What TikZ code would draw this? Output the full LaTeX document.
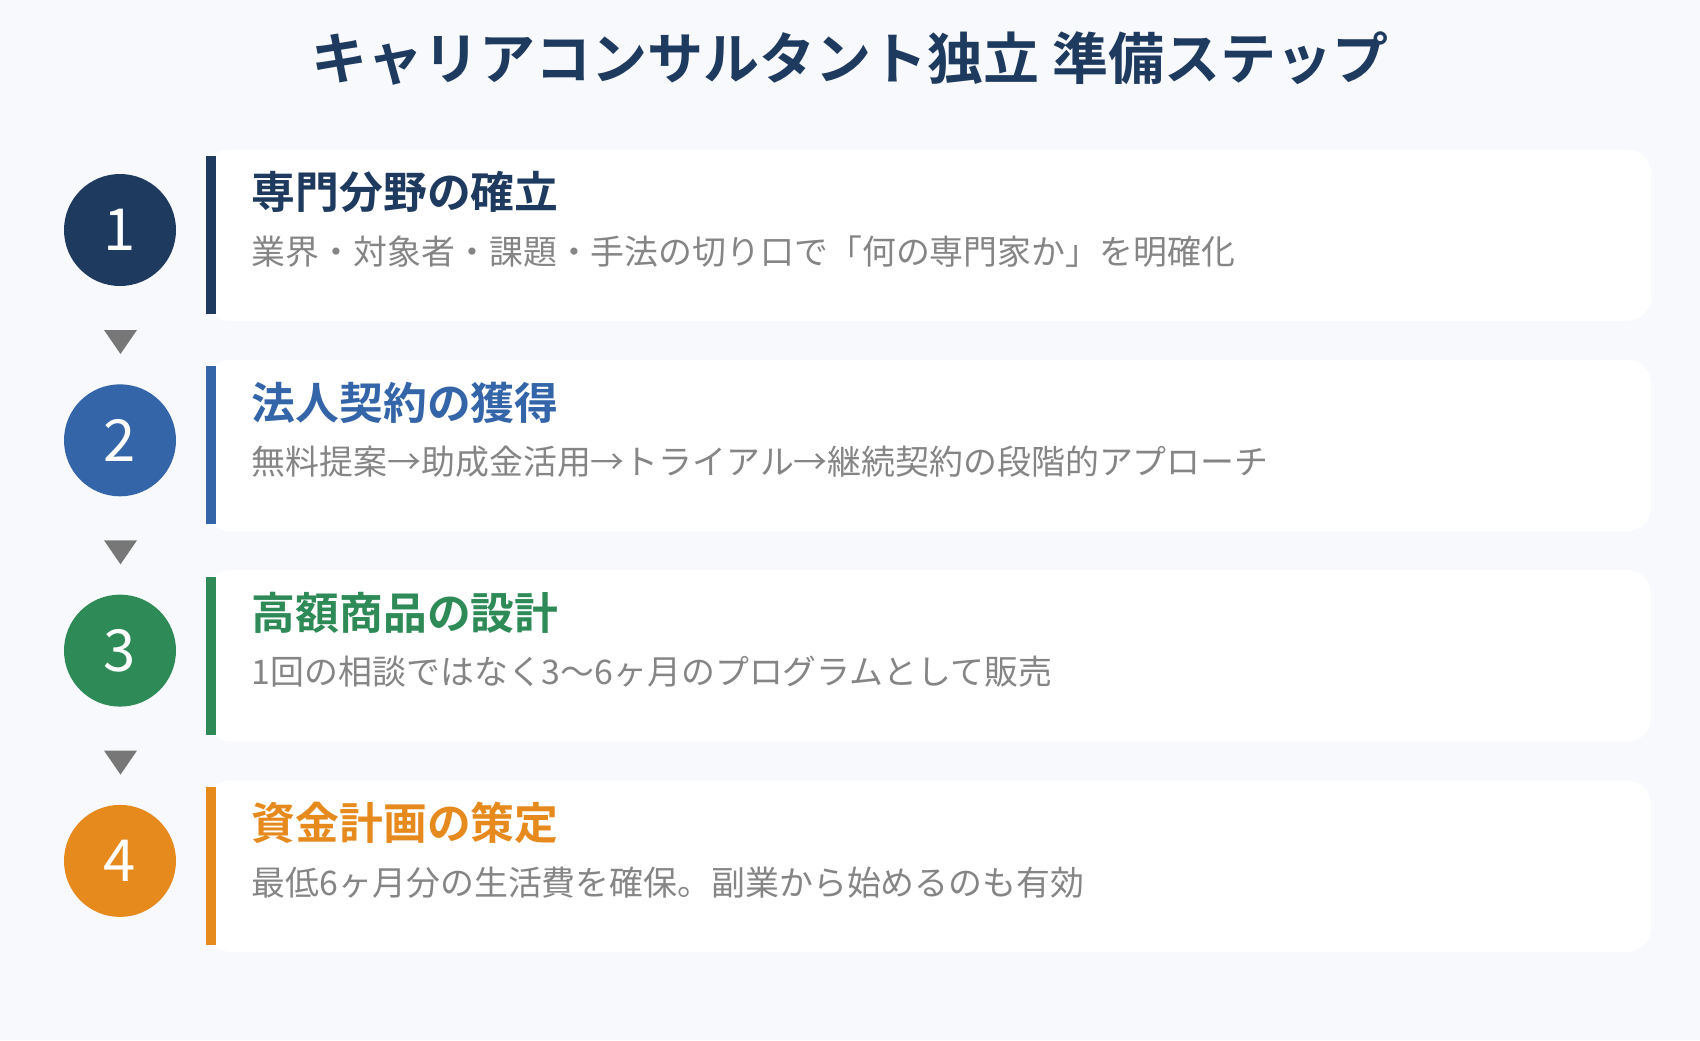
\documentclass[tikz,border=0pt]{standalone}
\usepackage{fontspec}
\setmainfont{Noto Sans CJK JP}[BoldFont={Noto Sans CJK JP Bold}]
\definecolor{bgc}{HTML}{F7F9FC}
\definecolor{cone}{HTML}{1E3A5F}
\definecolor{ctwo}{HTML}{3465A9}
\definecolor{cthree}{HTML}{2E8B57}
\definecolor{cfour}{HTML}{E68A1E}
\definecolor{descgray}{HTML}{858585}
\definecolor{arrowgray}{HTML}{777777}
\begin{document}
\begin{tikzpicture}[x=0.5pt,y=-0.5pt,
  card/.style={fill=white, rounded corners=12pt},
  numc/.style={circle, minimum size=56pt, inner sep=0pt, text=white, font=\fontsize{29}{29}\selectfont},
  ttl/.style={anchor=base west, inner sep=0pt, font=\fontsize{21.9}{22}\bfseries},
  desc/.style={anchor=base west, inner sep=0pt, text=descgray, font=\fontsize{16.95}{17}\selectfont},
  tri/.style={fill=arrowgray}]
\fill[bgc] (0,0) rectangle (1700,1040);
\useasboundingbox (0,0) rectangle (1700,1040);
\node[anchor=base, inner sep=0pt, text=cone, font=\fontsize{28}{28}\bfseries] (title) at (850,79) {キャリアコンサルタント独立 準備ステップ};
\foreach \k/\col/\num/\t/\d in {
  0/cone/1/専門分野の確立/業界・対象者・課題・手法の切り口で「何の専門家か」を明確化,
  1/ctwo/2/法人契約の獲得/無料提案→助成金活用→トライアル→継続契約の段階的アプローチ,
  2/cthree/3/高額商品の設計/1回の相談ではなく3〜6ヶ月のプログラムとして販売,
  3/cfour/4/資金計画の策定/最低6ヶ月分の生活費を確保。副業から始めるのも有効}{
  \pgfmathsetmacro{\o}{210.3*\k}
  \fill[card] (206,149.5+\o) rectangle (1651,321+\o);
  \fill[\col] (206,156+\o) rectangle (215.5,314+\o);
  \node[numc, fill=\col] (n\num) at (120,230+\o) {\num};
  \node[ttl, text=\col] (t\num) at (251.5,208.8+\o) {\t};
  \node[desc] (d\num) at (251.5,264.2+\o) {\d};
}
\foreach \k in {0,1,2}{
  \pgfmathsetmacro{\o}{210.3*\k}
  \fill[tri] (104,330+\o) -- (137,330+\o) -- (120.5,354+\o) -- cycle;
}
\end{tikzpicture}
\end{document}
